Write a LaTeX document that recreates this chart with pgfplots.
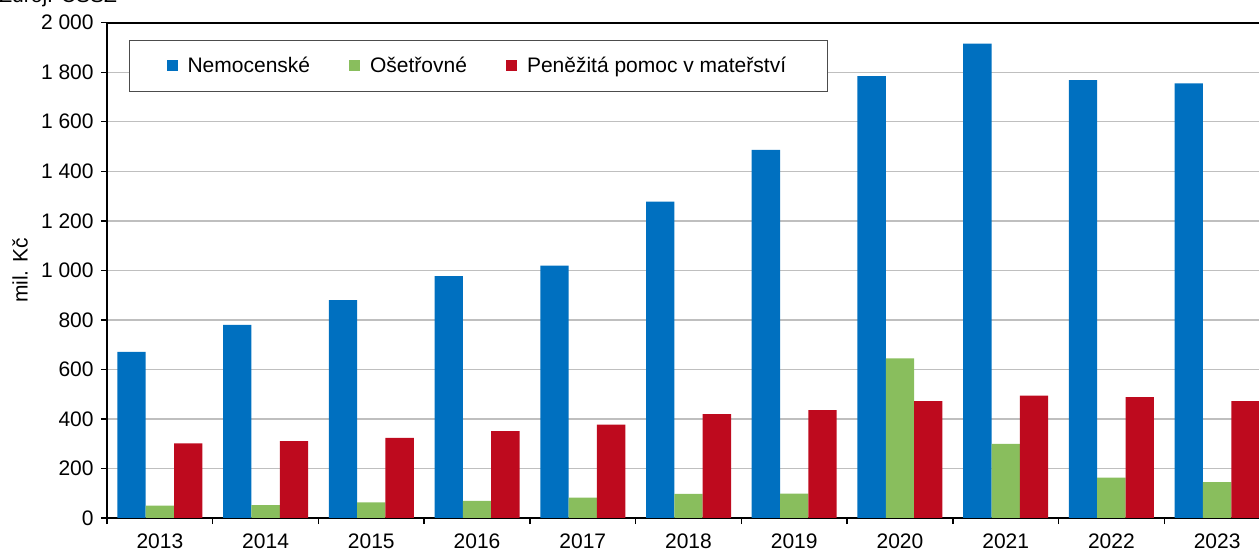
\documentclass[border=0pt]{standalone}
\usepackage{pgfplots}
\pgfplotsset{compat=1.18}
\usepackage{pgfplotstable}
\usepackage{fontspec}
\setmainfont{Liberation Sans}
\definecolor{cblue}{RGB}{0,112,192}
\definecolor{cgreen}{RGB}{137,190,93}
\definecolor{cred}{RGB}{190,10,30}
\pgfplotstableread{
x blue green red
0 671 50 301
1 780 52 310
2 880 63 324
3 977 69 351
4 1019 82 377
5 1278 97 419
6 1486 98 436
7 1784 645 472
8 1916 299 494
9 1768 163 488
10 1755 145 472
}\datatable
\begin{document}
\fontsize{10.5pt}{12.6pt}\selectfont
\begin{tikzpicture}
\begin{axis}[name=ax, at={(0,0)}, anchor=south west,
  scale only axis, width=581.5pt, height=247.65pt,
  font=\fontsize{10.5pt}{12.6pt}\selectfont,
  xmin=-0.5, xmax=10.5, ymin=0, ymax=2000,
  ybar, bar width=0.268,
  xtick={0,...,10},
  xticklabels={2013,2014,2015,2016,2017,2018,2019,2020,2021,2022,2023},
  xticklabel style={yshift=-1pt},
  minor xtick={-0.5,0.5,...,10.5},
  ytick={0,200,...,2000},
  yticklabels={0,200,400,600,800,1 000,1 200,1 400,1 600,1 800,2 000},
  tick align=outside,
  xtick pos=bottom, ytick pos=left,
  major tick length=3pt, minor tick length=3pt,
  major x tick style={draw=none},
  every tick/.style={black, line width=0.7pt},
  minor x tick style={black, line width=0.7pt},
  axis line style={black, line width=0.8pt},
  ymajorgrids,
  major grid style={color=black!25, line width=0.7pt},
  ylabel={mil. Kč},
  ylabel style={at={(axis description cs:-0.0748,0.5)}, anchor=center},
  legend columns=3,
  legend image code/.code={\fill[#1] (0pt,-2.75pt) rectangle (5.5pt,2.75pt);},
  legend style={at={(0.0189,0.965)}, anchor=north west, draw=black!70, line width=0.6pt,
    inner xsep=18.5pt, inner ysep=6pt,
    /tikz/every odd column/.append style={column sep=3pt},
    /tikz/every even column/.append style={column sep=17.5pt},
    font=\fontsize{10.5pt}{12.6pt}\selectfont},
]
\addplot[draw=none, fill=cblue, bar shift=-0.268] table[x=x, y=blue] {\datatable};
\addplot[draw=none, fill=cgreen, bar shift=0] table[x=x, y=green] {\datatable};
\addplot[draw=none, fill=cred, bar shift=0.268] table[x=x, y=red] {\datatable};
\legend{Nemocenské, Ošetřovné, Peněžitá pomoc v mateřství}
\end{axis}
\node[anchor=base west, inner sep=0pt] at (-54pt,257.5pt) {Zdroj: ČSSZ};
\pgfresetboundingbox
\useasboundingbox (-53.5pt,-17pt) rectangle (576pt,259pt);
\end{tikzpicture}
\end{document}
